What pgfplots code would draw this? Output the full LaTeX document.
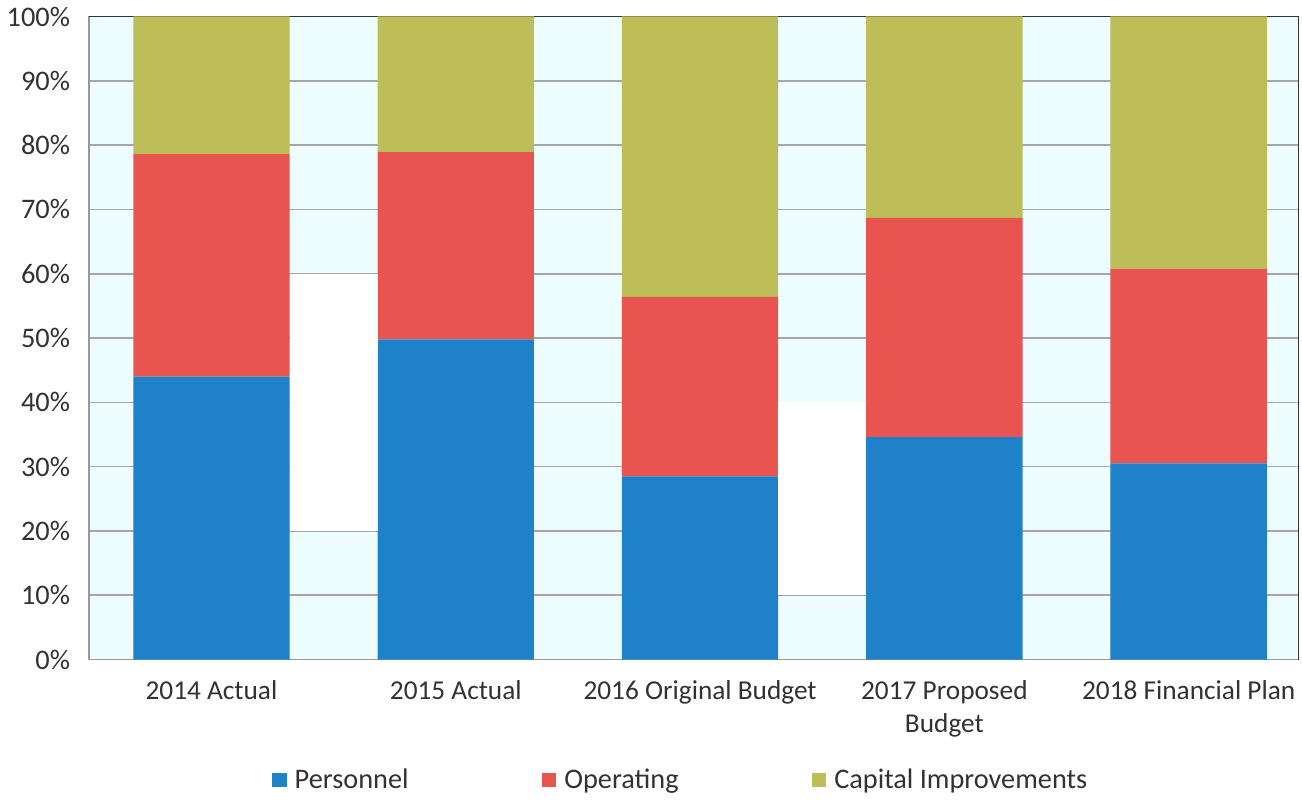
\documentclass[border=0pt]{standalone}
\usepackage{pgfplots}
\pgfplotsset{compat=1.18}
\usepackage{fontspec}
\setmainfont{Carlito}
\definecolor{cBlue}{RGB}{31,129,200}
\definecolor{cRed}{RGB}{232,85,80}
\definecolor{cOlive}{RGB}{189,190,88}
\definecolor{cBg}{RGB}{238,253,255}
\definecolor{cTxt}{RGB}{50,50,50}
\begin{document}
\begin{tikzpicture}
\begin{axis}[
  scale only axis,
  width=598pt, height=318pt,
  ybar stacked,
  bar width=0.64,
  xmin=-0.5, xmax=4.45,
  ymin=0, ymax=100,
  xtick={0,1,2,3,4},
  xticklabels={2014 Actual,2015 Actual,2016 Original Budget,{2017 Proposed\\Budget},2018 Financial Plan},
  xticklabel style={align=center, font=\fontsize{13.5}{16}\selectfont, text=cTxt, yshift=-7pt},
  ytick={0,10,...,100},
  yticklabel={\pgfmathprintnumber{\tick}\%},
  yticklabel style={font=\fontsize{14}{16}\selectfont, text=cTxt, xshift=-6pt},
  /pgf/number format/assume math mode=true,
  major tick length=0pt,
  ymajorgrids,
  grid style={gray!70, line width=0.8pt},
  axis background/.style={fill=cBg},
  axis line style={gray!80, line width=0.8pt},
  axis x line*=bottom,
  axis y line*=left,
  axis on top=false,
  legend style={at={(0.49,-0.187)}, anchor=center, draw=none, fill=none,
    legend columns=3, font=\fontsize{14}{16}\selectfont, text=cTxt,
    /tikz/every odd column/.append style={column sep=2pt},
    /tikz/every even column/.append style={column sep=64pt}},
  legend image code/.code={\fill[#1] (0pt,-3.5pt) rectangle (7pt,3.5pt);},
  clip=false,
]
\fill[white] (axis cs:0.32,20) rectangle (axis cs:0.68,60);
\fill[white] (axis cs:2.32,10) rectangle (axis cs:2.68,40);
\addplot[fill=cBlue, draw=none] coordinates {(0,44.0) (1,49.8) (2,28.5) (3,34.6) (4,30.5)};
\addplot[fill=cRed, draw=none] coordinates {(0,34.6) (1,29.1) (2,27.9) (3,34.1) (4,30.3)};
\addplot[fill=cOlive, draw=none] coordinates {(0,21.4) (1,21.1) (2,43.6) (3,31.3) (4,39.2)};
\legend{Personnel,Operating,Capital Improvements}
\draw[gray!40!black, line width=0.8pt] (axis cs:-0.5,100) -- (axis cs:4.45,100) -- (axis cs:4.45,0);
\end{axis}
\end{tikzpicture}
\end{document}
